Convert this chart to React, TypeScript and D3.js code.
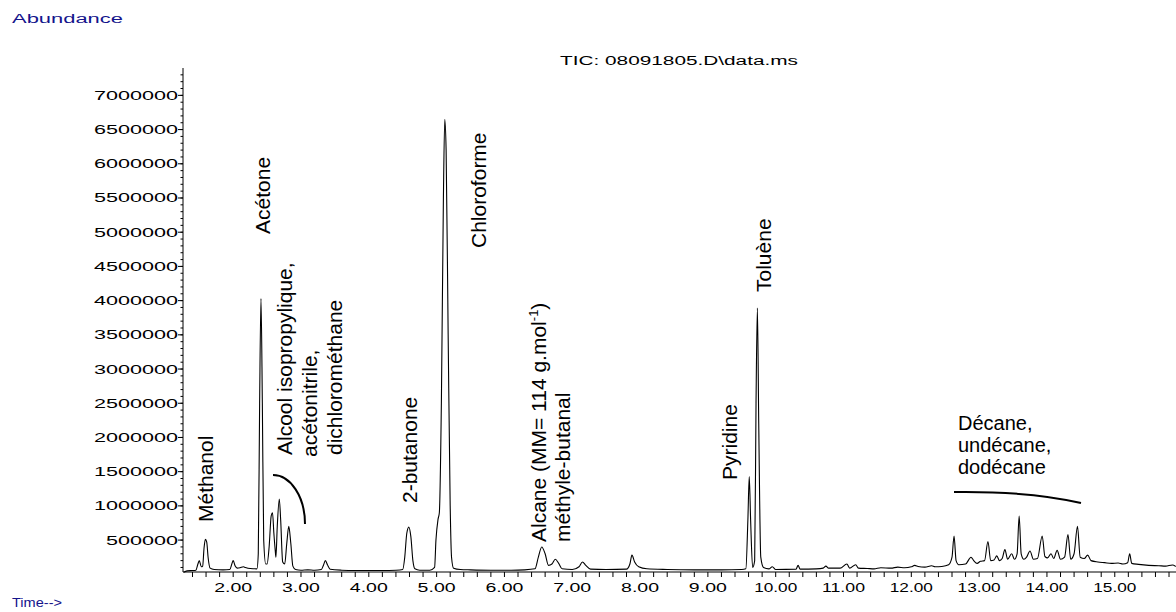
import React from "react";
import * as d3 from "d3";

// Chromatogram trace: [time (min), abundance]
const traceTimes: number[] = [
  1.27, 1.32, 1.4, 1.45, 1.48, 1.5, 1.53, 1.55, 1.57, 1.59, 1.61, 1.63, 1.66, 1.72, 1.85, 1.95, 1.98, 2.0, 2.03, 2.06,
  2.1, 2.15, 2.18, 2.25, 2.35, 2.37, 2.39, 2.41, 2.43, 2.45, 2.48, 2.5, 2.53, 2.56, 2.58, 2.6, 2.62, 2.63, 2.65, 2.68,
  2.7, 2.73, 2.76, 2.79, 2.82, 2.85, 2.88, 2.92, 3.0, 3.1, 3.2, 3.3, 3.33, 3.36, 3.39, 3.43, 3.6, 3.8, 4.0, 4.2,
  4.4, 4.5, 4.53, 4.56, 4.59, 4.62, 4.65, 4.68, 4.75, 4.9, 4.97, 4.99, 5.02, 5.04, 5.07, 5.1, 5.12, 5.14, 5.17, 5.2,
  5.22, 5.25, 5.35, 5.5, 5.8, 6.1, 6.3, 6.45, 6.5, 6.55, 6.6, 6.65, 6.7, 6.75, 6.8, 6.85, 7.0, 7.1, 7.15, 7.2,
  7.27, 7.5, 7.8, 7.85, 7.88, 7.92, 7.98, 8.1, 8.4, 8.8, 9.2, 9.5, 9.56, 9.59, 9.61, 9.63, 9.66, 9.69, 9.71, 9.73,
  9.75, 9.78, 9.82, 9.9, 9.95, 10.0, 10.3, 10.33, 10.36, 10.6, 10.7, 10.74, 10.78, 10.95, 11.05, 11.09, 11.18, 11.22, 11.35, 11.45,
  11.55, 11.7, 11.8, 11.9, 12.0, 12.05, 12.1, 12.2, 12.3, 12.35, 12.45, 12.55, 12.6, 12.63, 12.66, 12.7, 12.8, 12.88, 12.92, 12.97,
  13.02, 13.08, 13.13, 13.17, 13.22, 13.26, 13.3, 13.34, 13.38, 13.42, 13.48, 13.52, 13.56, 13.59, 13.62, 13.66, 13.7, 13.75, 13.8, 13.86,
  13.93, 13.97, 14.01, 14.06, 14.1, 14.15, 14.2, 14.26, 14.31, 14.35, 14.4, 14.45, 14.49, 14.55, 14.6, 14.65, 14.75, 14.85, 14.95, 15.05,
  15.12, 15.19, 15.22, 15.25, 15.35, 15.5, 15.65, 15.75, 15.85, 15.9,
];
const traceAbundance: number[] = [
  30000, 50000, 55000, 60000, 150000, 200000, 110000, 120000, 380000, 510000, 470000, 250000, 90000, 70000, 65000, 70000, 150000, 200000, 120000, 90000,
  95000, 110000, 100000, 85000, 80000, 300000, 2500000, 4030000, 2500000, 500000, 150000, 150000, 400000, 850000, 900000, 600000, 350000, 250000, 700000, 1100000,
  800000, 180000, 150000, 450000, 700000, 450000, 120000, 70000, 60000, 65000, 60000, 70000, 130000, 200000, 140000, 75000, 60000, 55000, 55000, 55000,
  60000, 70000, 250000, 600000, 690000, 550000, 200000, 80000, 60000, 60000, 100000, 500000, 800000, 900000, 2500000, 5500000, 6650000, 6200000, 3500000, 1000000,
  250000, 90000, 70000, 65000, 60000, 60000, 65000, 80000, 250000, 400000, 300000, 130000, 150000, 220000, 160000, 80000, 70000, 110000, 180000, 130000,
  75000, 70000, 75000, 150000, 280000, 180000, 110000, 80000, 70000, 65000, 65000, 70000, 80000, 800000, 1430000, 800000, 100000, 200000, 2500000, 3890000,
  2200000, 250000, 100000, 80000, 110000, 70000, 75000, 130000, 75000, 80000, 90000, 120000, 90000, 90000, 150000, 90000, 140000, 90000, 85000, 80000,
  95000, 90000, 105000, 95000, 110000, 130000, 115000, 105000, 125000, 110000, 115000, 140000, 250000, 560000, 200000, 140000, 150000, 250000, 200000, 160000,
  190000, 200000, 480000, 200000, 210000, 270000, 200000, 230000, 360000, 220000, 300000, 220000, 300000, 850000, 300000, 220000, 250000, 340000, 220000, 230000,
  560000, 260000, 240000, 300000, 230000, 350000, 220000, 250000, 580000, 220000, 300000, 700000, 250000, 230000, 280000, 200000, 180000, 170000, 160000, 165000,
  150000, 170000, 300000, 160000, 145000, 130000, 125000, 120000, 135000, 115000,
];

const xMajorTicks: number[] = [2, 3, 4, 5, 6, 7, 8, 9, 10, 11, 12, 13, 14, 15];
const xTickLabels: string[] = ["2.00", "3.00", "4.00", "5.00", "6.00", "7.00", "8.00", "9.00", "10.00", "11.00", "12.00", "13.00", "14.00", "15.00"];
const yMajorTicks: number[] = [500000, 1000000, 1500000, 2000000, 2500000, 3000000, 3500000, 4000000, 4500000, 5000000, 5500000, 6000000, 6500000, 7000000];

const titleText = "TIC: 08091805.D\\data.ms";
const yAxisTitle = "Abundance";
const xAxisTitle = "Time-->";

const FONT = "'Liberation Sans', Arial, Helvetica, sans-serif";
const W = 1176;
const H = 612;

export default function App() {
  const x = d3.scaleLinear().domain([1.26, 15.9]).range([183, 1175.8]);
  const y = d3.scaleLinear().domain([0, 7400000]).range([574.3, 68]);

  const pts: [number, number][] = traceTimes.map((t, i) => [t, traceAbundance[i]]);
  const line = d3
    .line<[number, number]>()
    .x((d) => x(d[0]))
    .y((d) => y(d[1]))
    .curve(d3.curveMonotoneX);

  const xMinor = d3.range(14, 159, 2).map((v) => v / 10);
  const yMinor = d3.range(1, 74).map((v) => v * 100000);
  const axisY = 572;
  const axisX = 183;

  const rot = (bx: number, by: number) => `translate(${bx},${by}) rotate(-90)`;
  const lab = { fontFamily: FONT, fontSize: 21, fill: "#000" } as const;
  const lab2 = { fontFamily: FONT, fontSize: 20, fill: "#000" } as const;

  return (
    <svg
      width={W}
      height={H}
      viewBox={`0 0 ${W} ${H}`}
      style={{ position: "absolute", left: 0, top: 0, display: "block", background: "#fff" }}
    >
      <rect x={0} y={0} width={W} height={H} fill="#fff" />
      {/* titles */}
      <text x={12} y={23} fontFamily={FONT} fontSize={12.5} fill="#14148c" textLength={111} lengthAdjust="spacingAndGlyphs">
        {yAxisTitle}
      </text>
      <text x={12} y={607} fontFamily={FONT} fontSize={12.5} fill="#14148c" textLength={50} lengthAdjust="spacingAndGlyphs">
        {xAxisTitle}
      </text>
      <text x={560} y={65} fontFamily={FONT} fontSize={12.5} fill="#000" textLength={238} lengthAdjust="spacingAndGlyphs">
        {titleText}
      </text>

      {/* axes */}
      <line x1={axisX} y1={68} x2={axisX} y2={axisY} stroke="#000" strokeWidth={1} />
      <line x1={axisX} y1={axisY} x2={W} y2={axisY} stroke="#000" strokeWidth={1} />
      {yMinor.map((v) => (
        <line key={"ym" + v} x1={axisX - 2.5} x2={axisX} y1={y(v)} y2={y(v)} stroke="#000" strokeWidth={1} />
      ))}
      {yMajorTicks.map((v) => {
        const s = String(v);
        return (
          <g key={"yM" + v}>
            <line x1={axisX - 5} x2={axisX} y1={y(v)} y2={y(v)} stroke="#000" strokeWidth={1} />
            <text
              x={178 - s.length * 12}
              y={y(v) + 4.5}
              fontFamily={FONT}
              fontSize={12.5}
              fill="#000"
              textLength={s.length * 12}
              lengthAdjust="spacingAndGlyphs"
            >
              {s}
            </text>
          </g>
        );
      })}
      {xMinor.map((v) => (
        <line key={"xm" + v} x1={x(v)} x2={x(v)} y1={axisY} y2={axisY + 5} stroke="#000" strokeWidth={1} />
      ))}
      {xMajorTicks.map((v, i) => {
        const s = xTickLabels[i];
        const len = s.length === 4 ? 38 : 43;
        return (
          <text
            key={"xl" + v}
            x={x(v) - len / 2}
            y={592}
            fontFamily={FONT}
            fontSize={12.5}
            fill="#000"
            textLength={len}
            lengthAdjust="spacingAndGlyphs"
          >
            {s}
          </text>
        );
      })}

      {/* trace */}
      <path d={line(pts) || ""} fill="none" stroke="#000" strokeWidth={1.1} strokeLinejoin="round" />

      {/* annotations */}
      <text transform={rot(213, 522)} {...lab}>Méthanol</text>
      <text transform={rot(270, 234)} {...lab}>Acétone</text>
      <text transform={rot(292, 455)} {...lab}>Alcool isopropylique,</text>
      <text transform={rot(317, 457)} {...lab}>acétonitrile,</text>
      <text transform={rot(342, 455)} {...lab}>dichlorométhane</text>
      <text transform={rot(417, 503)} {...lab}>2-butanone</text>
      <text transform={rot(486, 248)} {...lab}>Chloroforme</text>
      <text transform={rot(546, 542)} {...lab}>
        Alcane (MM= 114 g.mol
        <tspan fontSize={13} dy={-8}>-1</tspan>
        <tspan dy={8}>)</tspan>
      </text>
      <text transform={rot(570, 542)} {...lab}>méthyle-butanal</text>
      <text transform={rot(737, 480)} {...lab}>Pyridine</text>
      <text transform={rot(771, 292)} {...lab}>Toluène</text>
      <text x={958} y={430} {...lab2}>Décane,</text>
      <text x={958} y={452} {...lab2}>undécane,</text>
      <text x={958} y={474} {...lab2}>dodécane</text>

      {/* brackets */}
      <path d="M273,475 A32,49 0 0 1 305,524" fill="none" stroke="#000" strokeWidth={2} />
      <path d="M954,492 Q1030,491 1081,503" fill="none" stroke="#000" strokeWidth={2} />
    </svg>
  );
}
